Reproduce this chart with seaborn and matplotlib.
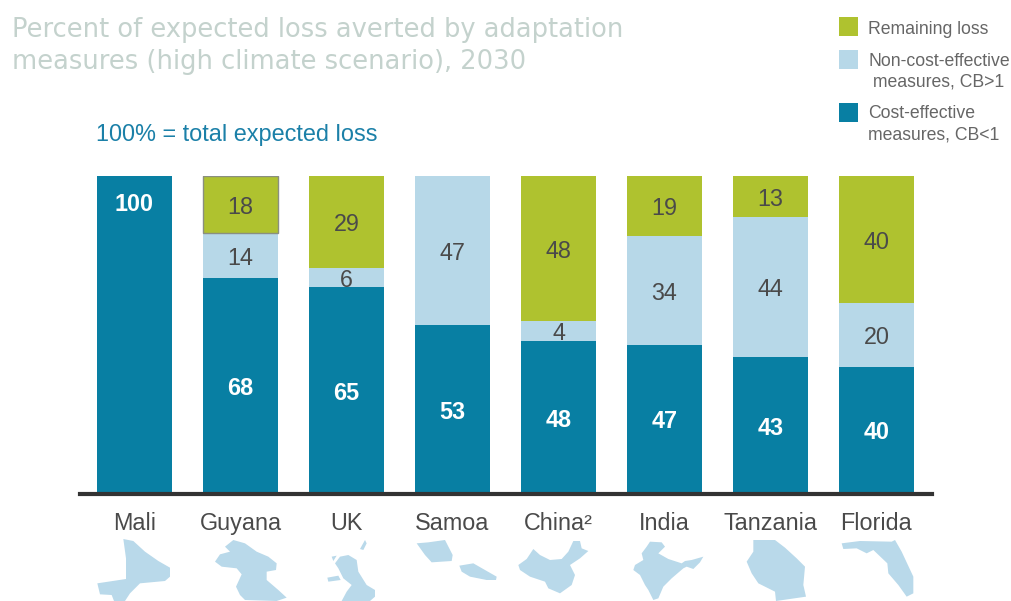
import matplotlib
matplotlib.use("Agg")
import matplotlib.pyplot as plt
from matplotlib.patches import Polygon, Rectangle
import numpy as np
import seaborn as sns

countries = ["Mali", "Guyana", "UK", "Samoa", "China²", "India", "Tanzania", "Florida"]
# numbers printed on the chart
label_cost = [100, 68, 65, 53, 48, 47, 43, 40]
label_non = [0, 14, 6, 47, 4, 34, 44, 20]
label_rem = [0, 18, 29, 0, 48, 19, 13, 40]
# segment heights as drawn: the reference draws China's "4" segment about 6.3 tall
cost_effective = [100, 68, 65, 53, 48, 47, 43, 40]
non_cost_effective = [0, 14, 6, 47, 6.3, 34, 44, 20]
remaining = [0, 18, 29, 0, 45.7, 19, 13, 40]

TEAL, LIGHT, GREEN = "#087fa3", "#b7d8e8", "#afc22f"
W, H = 1011, 601

sns.set_theme(style="white")
plt.rcParams["font.family"] = ["Liberation Sans", "DejaVu Sans"]

fig = plt.figure(figsize=(W / 100, H / 100), dpi=100, facecolor="white")
ax = fig.add_axes([80 / W, 1 - 494 / H, (932 - 80) / W, (494 - 176) / H])

c = np.array(cost_effective, float)
n = np.array(non_cost_effective, float)
r = np.array(remaining, float)
bar_width = 0.716
sns.barplot(x=countries, y=c, color=TEAL, saturation=1, width=bar_width, linewidth=0, ax=ax)
sns.barplot(x=countries, y=n, bottom=c, color=LIGHT, saturation=1, width=bar_width, linewidth=0, ax=ax)
sns.barplot(x=countries, y=r, bottom=c + n, color=GREEN, saturation=1, width=bar_width, linewidth=0, ax=ax)

ax.set_xlim(-0.514, 7.524)
ax.set_ylim(0, 100)
ax.set_yticks([])
ax.set_ylabel("")
sns.despine(ax=ax, left=True)
ax.spines["bottom"].set_color("#333333")
ax.spines["bottom"].set_linewidth(3)
ax.tick_params(axis="x", length=0, pad=13, labelsize=16.8, labelcolor="#4a4a4a")

NUDGE = 0.8  # number labels sit slightly below each segment's centre
for i in range(len(countries)):
    ypos = 91 if c[i] == 100 else c[i] / 2 - NUDGE
    ax.text(i, ypos, f"{label_cost[i]}", ha="center", va="center", color="white",
            fontsize=16.8, fontweight="bold")
    if n[i] > 0:
        ax.text(i, c[i] + n[i] / 2 - NUDGE, f"{label_non[i]}", ha="center", va="center",
                color="#4a4a4a", fontsize=16.8)
    if r[i] > 0:
        ax.text(i, c[i] + n[i] + r[i] / 2 - NUDGE, f"{label_rem[i]}", ha="center", va="center",
                color="#4a4a4a", fontsize=16.8)

# outline seen around Guyana's remaining-loss segment
ax.add_patch(Rectangle((1 - bar_width / 2, c[1] + n[1]), bar_width, r[1], fill=False,
                       edgecolor="#8a8f80", linewidth=1))

# pixel-space overlay for title, legend and map silhouettes
ov = fig.add_axes([0, 0, 1, 1], facecolor="none")
ov.set_xlim(0, W)
ov.set_ylim(H, 0)
ov.axis("off")

ov.text(12, 30, "Percent of expected loss averted by adaptation", fontsize=18.5,
        family="DejaVu Sans", color="#c4d2cd", va="center", ha="left")
ov.text(12, 62, "measures (high climate scenario), 2030", fontsize=18.5,
        family="DejaVu Sans", color="#c4d2cd", va="center", ha="left")
ov.text(96, 135.5, "100% = total expected loss", fontsize=16.95, color="#1b80a8",
        va="center", ha="left")

legend_colors = [GREEN, LIGHT, TEAL]
legend_tops = [17, 50, 103]
legend_labels = [["Remaining loss"], ["Non-cost-effective", " measures, CB>1"],
                 ["Cost-effective", "measures, CB<1"]]
legend_text_y = [29, 61, 114]
for col, top, lines, ty in zip(legend_colors, legend_tops, legend_labels, legend_text_y):
    ov.add_patch(Rectangle((839, top), 19, 19, color=col, lw=0))
    for k, line in enumerate(lines):
        ov.text(868, ty + k * 21, line, fontsize=12.7, color="#666666", va="center", ha="left")

map_shapes = [
    (90, [(100,12),(130,18),(165,50),(205,78),(240,98),(240,125),(225,138),(150,145),(120,175),(105,198),(72,198),(65,180),(30,178),(22,145),(108,132),(108,70)]),
    (90, [(405,35),(430,15),(465,25),(500,50),(535,65),(560,85),(558,105),(530,110),(530,135),(565,165),(590,188),(560,198),(465,195),(450,180),(438,155),(455,118),(440,100),(395,95),(375,80),(390,58),(420,50)]),
    (90, [(775,60),(800,75),(805,110),(830,150),(855,165),(855,185),(840,198),(755,198),(770,170),(785,150),(760,130),(745,100),(735,85),(750,65)]),
    (90, [(712,128),(745,122),(752,135),(715,140)]),
    (90, [(725,65),(740,62),(730,78)]),
    (90, [(810,42),(825,15),(830,25),(820,45)]),
    (370, [(140,25),(175,22),(225,15),(248,60),(245,78),(185,82),(165,60)]),
    (370, [(268,92),(310,85),(345,105),(380,125),(378,135),(350,135),(300,125),(275,110)]),
    (370, [(490,42),(510,60),(540,75),(575,72),(595,50),(610,18),(630,18),(635,40),(655,48),(630,70),(600,90),(615,120),(605,150),(570,175),(535,160),(525,140),(480,125),(450,105),(445,90),(470,72)]),
    (650, [(0,20),(35,22),(45,35),(25,55),(55,72),(95,85),(105,78),(125,75),(160,65),(150,82),(130,102),(110,95),(100,100),(65,130),(40,155),(25,190),(10,195),(-5,165),(-15,150),(-30,120),(-50,105),(-45,90),(-20,75),(-25,55),(-10,35)]),
    (650, [(310,15),(375,15),(405,38),(440,70),(465,95),(460,150),(468,185),(378,198),(375,170),(325,145),(305,115),(290,80),(310,50)]),
    (650, [(575,25),(630,18),(725,20),(735,15),(755,50),(790,125),(790,175),(770,185),(745,150),(715,115),(712,85),(670,45),(650,55),(620,40),(580,42)]),
]
for x0, shape in map_shapes:
    pts = [(x / 3 + x0, y / 3 + 535) for x, y in shape]
    ov.add_patch(Polygon(pts, closed=True, facecolor="#b9d9ea", edgecolor="none"))

fig.savefig("out.png", dpi=100)
